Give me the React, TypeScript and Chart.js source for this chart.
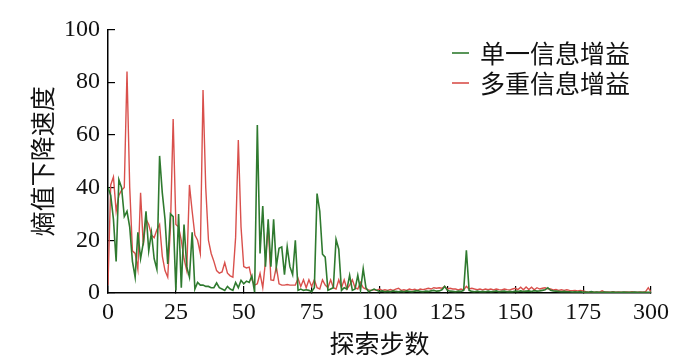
import React, { useEffect, useRef } from 'react';
import { Chart, registerables } from 'chart.js';

Chart.register(...registerables);

// 探索步数 (step index 0..200; the last axis tick is labelled 300)
const singleGain: number[] = [
  40, 37, 28, 12, 43, 40, 29, 31, 25, 12,
  6, 23, 13, 19, 31, 16, 23, 13, 9, 52,
  38, 28, 11, 30, 29, 1, 30, 2, 26, 10,
  6, 23, 1.5, 4, 3, 3, 2.5, 2.5, 2, 2,
  3.8, 2, 1.5, 1, 2.5, 1.5, 1, 4, 2, 4.8,
  3.5, 4.5, 4, 6.5, 0.3, 63.7, 15, 33, 10, 28,
  10, 28, 10, 17, 17.5, 7, 17.5, 10, 7, 20,
  1, 1.5, 1, 1.2, 1, 0.5, 2, 37.7, 31, 14.7,
  13.6, 1, 1.5, 2, 20.3, 16.6, 1, 2, 1.5, 6.7,
  1, 1.5, 6.7, 1, 9.2, 2, 0.5, 1, 1.5, 1,
  0.6, 0.8, 0.5, 0.7, 0.5, 0.8, 0.6, 0.5, 0.7, 0.5,
  0.8, 0.6, 0.5, 0.7, 0.9, 0.6, 0.5, 0.7, 0.6, 0.8,
  1, 0.7, 0.8, 1.2, 2.5, 1, 0.7, 0.6, 0.5, 0.7,
  0.6, 1, 16.2, 1, 0.6, 0.5, 0.7, 0.5, 0.6, 0.5,
  0.7, 0.5, 0.6, 0.8, 0.5, 0.6, 0.7, 0.5, 0.6, 0.5,
  0.7, 0.6, 0.8, 0.6, 0.7, 0.8, 0.6, 0.9, 0.7, 0.8,
  1, 1.2, 2, 1, 0.8, 0.7, 0.6, 0.5, 0.6, 0.5,
  0.5, 0.4, 0.5, 0.4, 0.5, 0.3, 0.4, 0.3, 0.5, 0.3,
  0.4, 0.3, 0.3, 0.4, 0.3, 0.3, 0.4, 0.3, 0.3, 0.3,
  0.4, 0.3, 0.3, 0.3, 0.4, 0.3, 0.3, 0.3, 0.3, 0.3,
  0.3,
];

const multiGain: number[] = [
  3, 41, 44, 31, 37, 39, 40, 84, 40, 16,
  15, 9, 38, 18, 28, 26, 22, 21, 24, 26,
  14, 8.5, 6, 25, 66, 26, 25, 20, 13, 8.5,
  41, 31, 22, 20, 15, 77, 40, 20, 15, 12,
  8.5, 7.5, 8, 11.5, 7.5, 6.5, 6, 21, 58, 25,
  10, 9.5, 9.8, 5, 3, 3.5, 7.4, 2, 12, 26,
  5, 4.8, 10, 3.5, 3, 3, 3.2, 3, 3, 3,
  5.5, 2.5, 5, 2, 5, 2.5, 5, 2, 1.5, 5,
  3, 2, 5, 2, 1.5, 5, 2, 5, 1.5, 3,
  5, 2, 1.5, 4, 2, 1.5, 1.2, 1, 1.3, 1,
  1.5, 1, 1.2, 1, 1.3, 1, 1.5, 1.8, 1, 1.2,
  1, 1.5, 1.2, 1.4, 1, 1.5, 1.3, 1.5, 1.8, 1.5,
  2, 1.8, 2, 1.8, 2.5, 1.5, 1.8, 1.5, 1.5, 1.2,
  1.5, 1.2, 2.5, 1.5, 1.8, 1.5, 1.3, 1.5, 1.2, 1.5,
  1.3, 1.5, 1.2, 1.5, 1.3, 1.2, 1.5, 1.3, 1.2, 1.5,
  1.8, 1.3, 2.2, 1.2, 2.3, 1.3, 2.2, 1.2, 2, 1.5,
  1.8, 2, 1.6, 1.5, 1.2, 1.3, 1, 1.2, 1, 1.2,
  1, 0.9, 1, 0.8, 1, 0.8, 0.5, 0.3, 0.5, 0.3,
  0.4, 0.3, 0.8, 0.3, 0.4, 0.3, 0.5, 0.3, 0.4, 0.3,
  0.3, 0.4, 0.3, 0.5, 0.3, 0.3, 0.4, 0.3, 0.5, 2,
  0.3,
];

const steps: number[] = singleGain.map((_, i) => i);
const seriesNames = ['单一信息增益', '多重信息增益'];
const seriesColors = ['#2f7a2f', '#d9504c'];
const xTickValues = [0, 25, 50, 75, 100, 125, 150, 175, 200];
const xTickLabels = ['0', '25', '50', '75', '100', '125', '150', '175', '300'];
const yTickValues = [0, 20, 40, 60, 80, 100];
const xTitle = '探索步数';
const yTitle = '熵值下降速度';

const CJK = '"Noto Sans CJK SC", sans-serif';
const SERIF = '"Liberation Serif", "DejaVu Serif", serif';

const legendPlugin = {
  id: 'customLegend',
  afterDraw(chart: any) {
    const { ctx } = chart;
    ctx.save();
    chart.data.datasets.forEach((ds: any, i: number) => {
      const y = 53 + i * 30;
      ctx.strokeStyle = ds.borderColor;
      ctx.lineWidth = 1.6;
      ctx.beginPath();
      ctx.moveTo(452, y);
      ctx.lineTo(469, y);
      ctx.stroke();
      ctx.fillStyle = '#111';
      ctx.font = `25px ${CJK}`;
      ctx.textBaseline = 'middle';
      ctx.textAlign = 'left';
      ctx.fillText(ds.label, 480, y);
    });
    ctx.restore();
  },
};

export default function App() {
  const canvasRef = useRef<HTMLCanvasElement | null>(null);

  useEffect(() => {
    document.body.style.margin = '0';
    const canvas = canvasRef.current;
    if (!canvas) return;
    const chart = new Chart(canvas, {
      type: 'line',
      data: {
        datasets: [
          {
            label: seriesNames[0],
            data: singleGain.map((y, i) => ({ x: steps[i], y })),
            borderColor: seriesColors[0],
            borderWidth: 1.6,
            pointRadius: 0,
            tension: 0,
            fill: false,
          },
          {
            label: seriesNames[1],
            data: multiGain.map((y, i) => ({ x: steps[i], y })),
            borderColor: seriesColors[1],
            borderWidth: 1.4,
            pointRadius: 0,
            tension: 0,
            fill: false,
          },
        ],
      },
      options: {
        animation: false,
        responsive: false,
        maintainAspectRatio: false,
        devicePixelRatio: 1,
        layout: { padding: { top: 24, right: 49, left: 0, bottom: 0 } },
        plugins: {
          legend: { display: false },
          tooltip: { enabled: false },
        },
        scales: {
          x: {
            type: 'linear',
            min: 0,
            max: 200,
            afterBuildTicks: (s: any) => {
              s.ticks = xTickValues.map((v) => ({ value: v }));
            },
            afterFit: (s: any) => {
              s.height = 69;
            },
            ticks: {
              autoSkip: false,
              maxRotation: 0,
              padding: 12,
              color: '#111',
              font: { family: SERIF, size: 24 },
              callback: (v: any) => {
                const idx = xTickValues.indexOf(Number(v));
                return idx >= 0 ? xTickLabels[idx] : '';
              },
            },
            grid: {
              display: true,
              drawOnChartArea: false,
              drawTicks: true,
              tickLength: -7,
              color: '#000',
              lineWidth: 1.2,
            },
            border: { display: true, color: '#000', width: 1.5 },
            title: {
              display: true,
              text: xTitle,
              color: '#111',
              font: { family: CJK, size: 25 },
              padding: { top: 0, bottom: 4 },
            },
          },
          y: {
            type: 'linear',
            min: 0,
            max: 100,
            afterBuildTicks: (s: any) => {
              s.ticks = yTickValues.map((v) => ({ value: v }));
            },
            afterFit: (s: any) => {
              s.width = 108;
            },
            ticks: {
              padding: 15,
              color: '#111',
              font: { family: SERIF, size: 24 },
            },
            grid: {
              display: true,
              drawOnChartArea: false,
              drawTicks: true,
              tickLength: -7,
              color: '#000',
              lineWidth: 1.2,
            },
            border: { display: true, color: '#000', width: 1.5 },
            title: {
              display: true,
              text: yTitle,
              color: '#111',
              font: { family: CJK, size: 25 },
              padding: { top: 27, bottom: 0 },
            },
          },
        },
      },
      plugins: [legendPlugin],
    } as any);
    return () => chart.destroy();
  }, []);

  return (
    <div style={{ width: 700, height: 362, position: 'relative', background: '#fff' }}>
      <canvas ref={canvasRef} width={700} height={362} style={{ display: 'block', width: 700, height: 362 }} />
    </div>
  );
}
